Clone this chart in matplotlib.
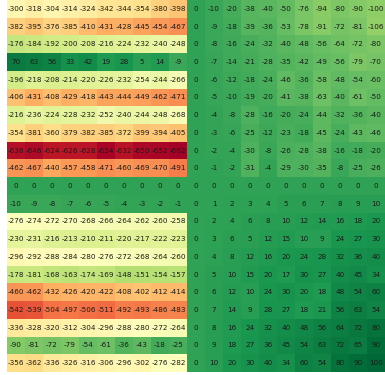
import numpy as np
import matplotlib
matplotlib.use('Agg')
import matplotlib.pyplot as plt

# Left block (10 columns) and right block (11 columns) of each row
left_rows = [
    [-300, -318, -304, -314, -324, -342, -344, -354, -380, -398],
    [-382, -395, -376, -385, -410, -431, -428, -445, -454, -467],
    [-176, -184, -192, -200, -208, -216, -224, -232, -240, -248],
    [70, 63, 56, 33, 42, 19, 28, 5, 14, -9],
    [-196, -218, -208, -214, -220, -226, -232, -254, -244, -266],
    [-406, -431, -408, -429, -418, -443, -444, -449, -462, -471],
    [-216, -236, -224, -228, -232, -252, -240, -244, -248, -268],
    [-354, -381, -360, -379, -382, -385, -372, -399, -394, -405],
    [-636, -646, -624, -626, -628, -654, -632, -650, -652, -662],
    [-462, -467, -440, -457, -458, -471, -460, -469, -470, -491],
    [0, 0, 0, 0, 0, 0, 0, 0, 0, 0],
    [-10, -9, -8, -7, -6, -5, -4, -3, -2, -1],
    [-276, -274, -272, -270, -268, -266, -264, -262, -260, -258],
    [-230, -231, -216, -213, -210, -211, -220, -217, -222, -223],
    [-296, -292, -288, -284, -280, -276, -272, -268, -264, -260],
    [-178, -181, -168, -163, -174, -169, -148, -151, -154, -157],
    [-460, -462, -432, -426, -420, -422, -408, -402, -412, -414],
    [-542, -539, -504, -497, -506, -511, -492, -493, -486, -483],
    [-336, -328, -320, -312, -304, -296, -288, -280, -272, -264],
    [-90, -81, -72, -79, -54, -61, -36, -43, -18, -25],
    [-356, -362, -336, -326, -316, -306, -296, -302, -276, -282],
]

right_rows = [
    [0, -10, -20, -38, -40, -50, -76, -94, -80, -90, -100],
    [0, -9, -18, -39, -36, -53, -78, -91, -72, -81, -106],
    [0, -8, -16, -24, -32, -40, -48, -56, -64, -72, -80],
    [0, -7, -14, -21, -28, -35, -42, -49, -56, -79, -70],
    [0, -6, -12, -18, -24, -46, -36, -58, -48, -54, -60],
    [0, -5, -10, -19, -20, -41, -38, -63, -40, -61, -50],
    [0, -4, -8, -28, -16, -20, -24, -44, -32, -36, -40],
    [0, -3, -6, -25, -12, -23, -18, -45, -24, -43, -46],
    [0, -2, -4, -30, -8, -26, -28, -38, -16, -18, -20],
    [0, -1, -2, -31, -4, -29, -30, -35, -8, -25, -26],
    [0, 0, 0, 0, 0, 0, 0, 0, 0, 0, 0],
    [0, 1, 2, 3, 4, 5, 6, 7, 8, 9, 10],
    [0, 2, 4, 6, 8, 10, 12, 14, 16, 18, 20],
    [0, 3, 6, 5, 12, 15, 10, 9, 24, 27, 30],
    [0, 4, 8, 12, 16, 20, 24, 28, 32, 36, 40],
    [0, 5, 10, 15, 20, 17, 30, 27, 40, 45, 34],
    [0, 6, 12, 10, 24, 30, 20, 18, 48, 54, 60],
    [0, 7, 14, 9, 28, 27, 18, 21, 56, 63, 54],
    [0, 8, 16, 24, 32, 40, 48, 56, 64, 72, 80],
    [0, 9, 18, 27, 36, 45, 54, 63, 72, 65, 90],
    [0, 10, 20, 30, 40, 34, 60, 54, 80, 90, 100],
]

grid = np.hstack([np.array(left_rows), np.array(right_rows)])
n_rows, n_cols = grid.shape

fig = plt.figure(figsize=(3.85, 3.75), dpi=100)
ax = fig.add_axes([7 / 385, 3 / 375, 378 / 385, 372 / 375])
ax.imshow(grid, cmap='RdYlGn', aspect='auto', interpolation='nearest',
          vmin=grid.min(), vmax=grid.max())

for i in range(n_rows):
    for j in range(n_cols):
        ax.text(j, i, str(grid[i, j]), ha='center', va='center',
                fontsize=5.2, color='#1a1a1a')

ax.set_xticks([])
ax.set_yticks([])
for spine in ax.spines.values():
    spine.set_visible(False)

fig.savefig('out.png', dpi=100)
